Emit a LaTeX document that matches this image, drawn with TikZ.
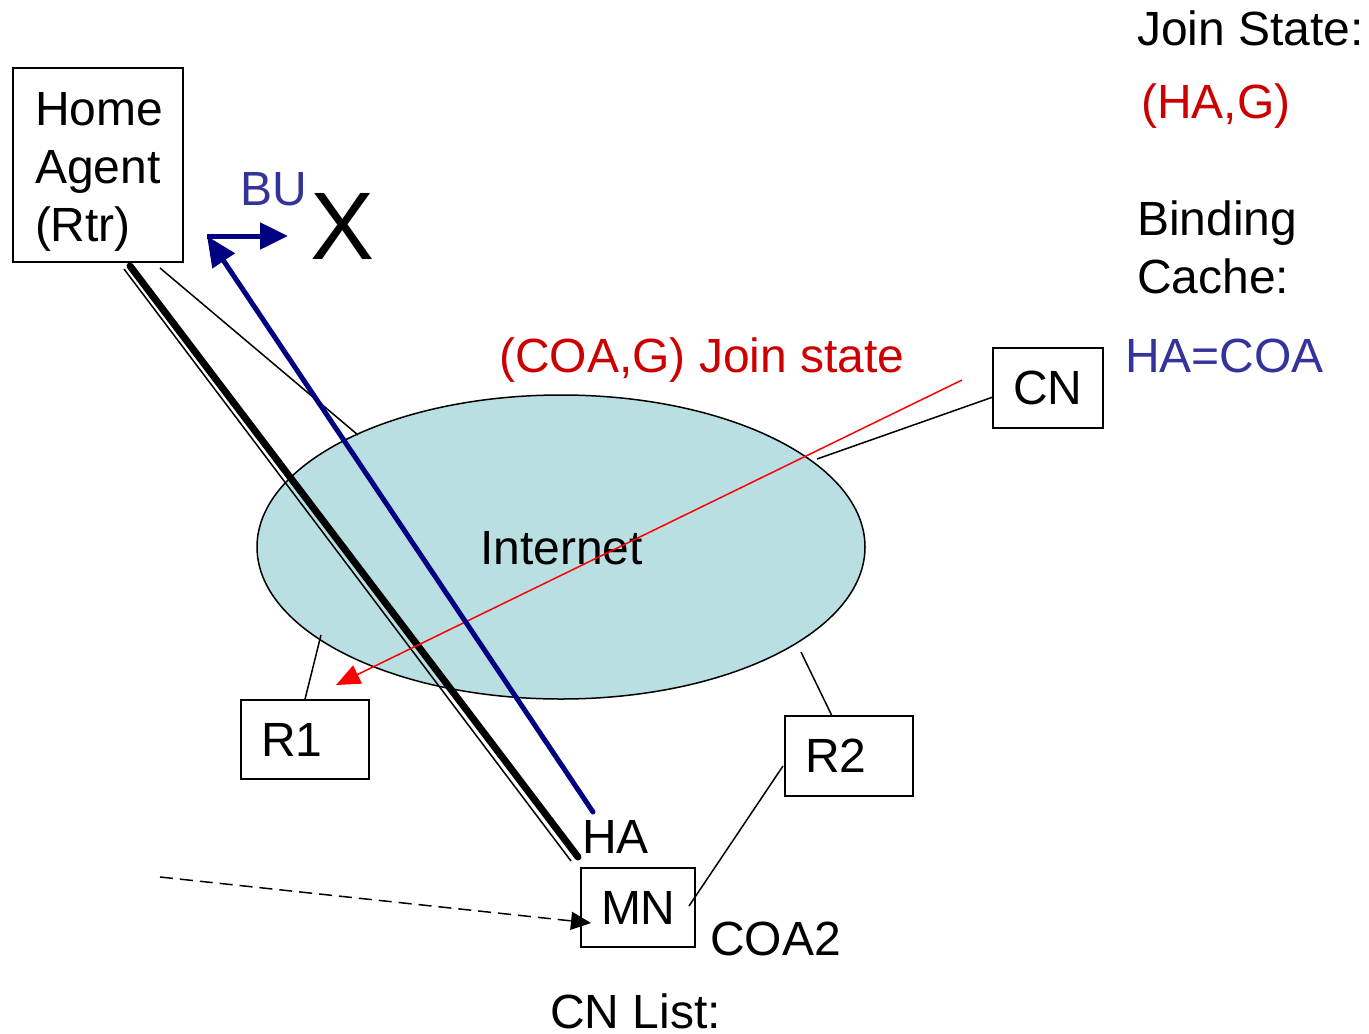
\documentclass[tikz,border=0pt]{standalone}
\usepackage{fontspec}
\setmainfont{Liberation Sans}
\usetikzlibrary{arrows.meta,shapes.geometric,calc}
\definecolor{netfill}{RGB}{185,223,227}
\definecolor{bluetxt}{RGB}{51,51,153}
\definecolor{redtxt}{RGB}{204,0,0}
\definecolor{navyarr}{RGB}{0,0,128}
\tikzset{
  big/.style={font=\fontsize{48}{58}\selectfont},
  lbl/.style={big,inner sep=0pt,anchor=base west},
  boxnode/.style={draw,line width=1.5pt,big,align=left,inner xsep=20pt,inner ysep=0pt},
  thin/.style={line width=1.5pt},
}
\begin{document}
\begin{tikzpicture}[x=1pt,y=-1pt]
\useasboundingbox (0,0) rectangle (1369,1034);
% Internet cloud
\node[ellipse,draw,line width=1.5pt,fill=netfill,minimum width=608pt,minimum height=304pt,inner sep=0pt] (net) at (561,547) {};
\node[lbl] (nettxt) at (480,564) {Internet};
% boxes
\node[boxnode,text width=126pt,inner xsep=22pt,minimum height=194pt] (ha) at (98,165) {\rule{0pt}{47pt}Home\\Agent\\(Rtr)};
\node[boxnode,text width=88pt,minimum height=79pt] (r1) at (305,739.5) {R1};
\node[boxnode,text width=88pt,minimum height=80pt] (r2) at (849,756) {R2};
\node[boxnode,text width=74pt,minimum height=79pt] (mn) at (638,907.5) {MN};
\node[boxnode,text width=70pt,minimum height=80pt] (cn) at (1048,388) {CN};
% coordinates
\coordinate (hathick) at (130,266);
\coordinate (hathin) at (124,269);
\coordinate (mnthick) at (578,857);
\coordinate (mnthin) at (571,861);
\coordinate (hathinr) at (160,268);
\coordinate (netul) at (358,435);
\coordinate (r1e) at (321,635);
\coordinate (r2t) at (832,716);
\coordinate (r2e) at (801,652);
\coordinate (r2l) at (783,766);
\coordinate (mnr) at (689,906);
\coordinate (cnl) at (993,397);
\coordinate (netr) at (817,459);
\coordinate (redstart) at (962,380);
\coordinate (redend) at (336,685);
\coordinate (bufrom) at (593,812);
\coordinate (bucorner) at (207,236);
\coordinate (buend) at (288,236);
\coordinate (dashstart) at (160,877);
\coordinate (dashend) at (591,923);
% connectors
\draw[line width=7pt,line cap=round] (hathick) -- (mnthick);
\draw[line width=1.5pt] (hathin) -- (mnthin);
\draw[thin] (hathinr) -- (netul);
\draw[thin] (r1.north) -- (r1e);
\draw[thin] (r2t) -- (r2e);
\draw[thin] (r2l) -- (mnr);
\draw[thin] (cnl) -- (netr);
\draw[red,line width=1.5pt,-{Triangle[length=24pt,width=20pt]}] (redstart) -- (redend);
\draw[navyarr,line width=5pt,line cap=round,-{Triangle[length=30pt,width=26pt]}] (bufrom) -- (bucorner);
\draw[navyarr,line width=5pt,-{Triangle[length=28pt,width=26pt]}] (bucorner) -- (buend);
\draw[line width=1.5pt,dash pattern=on 13pt off 7pt,-{Triangle[length=20pt,width=18pt]}] (dashstart) -- (dashend);
% labels
\node[lbl,text=bluetxt] (bu) at (240,205) {BU};
\node[lbl,font=\fontsize{96}{110}\selectfont] (x) at (310,259) {X};
\node[lbl] (hatxt) at (582,853) {HA};
\node[lbl] (coa2) at (710,955) {COA2};
\node[lbl] (cnlist) at (550,1028) {CN List:};
\node[lbl,text=redtxt] (join) at (499,372) {(COA,G) Join state};
\node[lbl] (js) at (1137,45) {Join State:};
\node[lbl,text=redtxt] (hag) at (1141,118) {(HA,G)};
\node[lbl] (bind) at (1137,235) {Binding};
\node[lbl] (cache) at (1137,293) {Cache:};
\node[lbl,text=bluetxt] (hacoa) at (1125,372) {HA=COA};
\end{tikzpicture}
\end{document}
